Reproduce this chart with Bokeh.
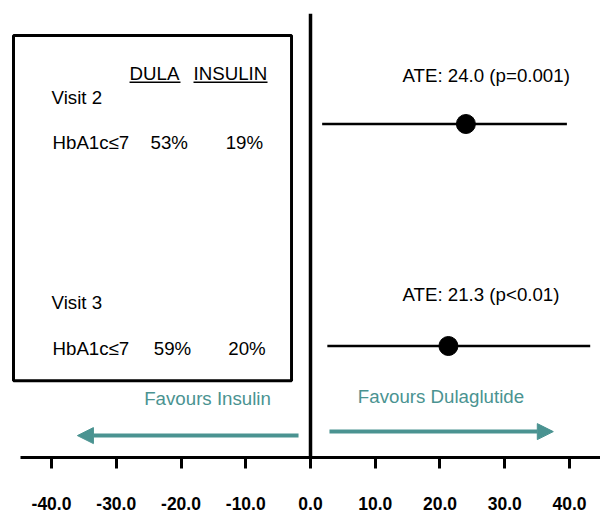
from bokeh.plotting import figure
from bokeh.models import Range1d, FixedTicker, NumeralTickFormatter, Arrow, NormalHead
from bokeh.embed import file_html
from bokeh.resources import INLINE
from bokeh.core.properties import value

# ---- data ----
visits = ["Visit 2", "Visit 3"]
outcome = ["HbA1c≤7", "HbA1c≤7"]
ate = [24.0, 21.3]
ci_low = [1.8, 2.6]
ci_high = [39.6, 43.2]
p_text = ["p=0.001", "p<0.01"]
dula_pct = ["53%", "59%"]
insulin_pct = ["19%", "20%"]
headers = ["DULA", "INSULIN"]
tick_values = [-40, -30, -20, -10, 0, 10, 20, 30, 40]
favour_labels = ["Favours Insulin", "Favours Dulaglutide"]

# ---- layout (y in pixel-like units, 0 = x axis) ----
row_y = [335, 112]          # CI rows
ate_y = [384, 164]
visit_y = [362, 156]
hb_y = [316, 109]
header_y = 386
underline_y = 377

FONT = value("Liberation Sans")
FS = "18.7px"
TEAL = "#4a9391"

p = figure(width=600, height=512, output_backend="svg", toolbar_location=None,
           x_range=Range1d(-47.88, 44.79), y_range=Range1d(0, 446),
           y_axis_location=None, min_border_left=0, min_border_right=0,
           min_border_top=13, min_border_bottom=53)
p.outline_line_color = None
p.xgrid.visible = False
p.ygrid.visible = False
p.background_fill_color = "white"

ax = p.xaxis[0]
ax.ticker = FixedTicker(ticks=tick_values)
ax.formatter = NumeralTickFormatter(format="0.0")
ax.bounds = (-44.8, 44.8)
ax.axis_line_width = 3
ax.major_tick_line_width = 3
ax.major_tick_out = 11
ax.major_tick_in = 0
ax.minor_tick_line_color = None
ax.major_label_text_font = "Liberation Sans"
ax.major_label_text_font_style = "bold"
ax.major_label_text_font_size = "17.5px"
ax.major_label_text_color = "black"
ax.major_label_standoff = 28

# zero line
p.segment(x0=[0], y0=[0], x1=[0], y1=[446], line_color="black", line_width=3.5)

# CI and points
p.segment(x0=ci_low, y0=row_y, x1=ci_high, y1=row_y, line_color="black", line_width=2.5)
p.scatter(x=ate, y=row_y, size=19, color="black")

ate_labels = [f"ATE: {a:.1f} ({pt})" for a, pt in zip(ate, p_text)]
p.text(x=[14.2, 14.2], y=ate_y, text=ate_labels, text_font=FONT, text_font_size=FS,
       text_baseline="middle", text_align="left", text_color="black")

# table box
p.quad(left=[-45.87], right=[-2.93], bottom=[77], top=[424],
       fill_color=None, line_color="black", line_width=3)

# headers with underline
header_x = [-27.95, -18.07]
header_x_end = [-20.08, -6.64]
p.text(x=header_x, y=[header_y] * 2, text=headers, text_font=FONT, text_font_size=FS,
       text_baseline="middle", text_align="left", text_color="black")
p.segment(x0=header_x, y0=[underline_y] * 2, x1=header_x_end, y1=[underline_y] * 2,
          line_color="black", line_width=1.5)

# visit labels and rows
p.text(x=[-40.0, -40.0], y=visit_y, text=visits, text_font=FONT, text_font_size=FS,
       text_baseline="middle", text_align="left", text_color="black")
p.text(x=[-39.85, -39.85], y=hb_y, text=outcome, text_font=FONT, text_font_size=FS,
       text_baseline="middle", text_align="left", text_color="black")
p.text(x=[-24.7, -24.2], y=hb_y, text=dula_pct, text_font=FONT, text_font_size=FS,
       text_baseline="middle", text_align="left", text_color="black")
p.text(x=[-13.1, -12.7], y=hb_y, text=insulin_pct, text_font=FONT, text_font_size=FS,
       text_baseline="middle", text_align="left", text_color="black")

# favours labels and arrows
p.text(x=[-15.9, 20.15], y=[59, 61], text=favour_labels, text_font=FONT, text_font_size=FS,
       text_baseline="middle", text_align="center", text_color=TEAL)
p.add_layout(Arrow(end=NormalHead(size=16, fill_color=TEAL, line_color=TEAL),
                   x_start=-1.85, y_start=22, x_end=-36.0, y_end=22,
                   line_color=TEAL, line_width=4))
p.add_layout(Arrow(end=NormalHead(size=16, fill_color=TEAL, line_color=TEAL),
                   x_start=2.93, y_start=26, x_end=37.5, y_end=26,
                   line_color=TEAL, line_width=4))

open("out.html", "w").write(file_html(p, INLINE))
